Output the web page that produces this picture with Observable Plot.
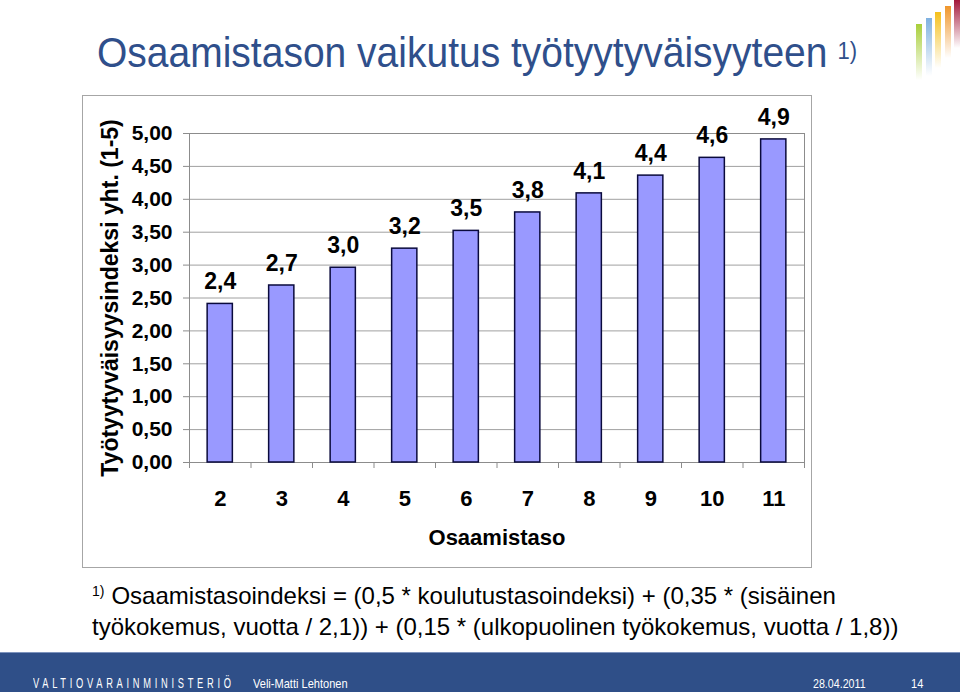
<!DOCTYPE html>
<html>
<head>
<meta charset="utf-8">
<script src="https://cdn.jsdelivr.net/npm/d3@7"></script>
<script src="https://cdn.jsdelivr.net/npm/@observablehq/plot@0.6"></script>
<style>
  html, body { margin: 0; padding: 0; background: #fff; }
  body { width: 960px; height: 692px; position: relative; overflow: hidden; font-family: "Liberation Sans", Arial, sans-serif; }
  #title { position: absolute; left: 97px; top: 27px; font-size: 39px; line-height: 46px; color: #2f4f8b; white-space: nowrap; transform: scaleY(1.1); transform-origin: 0 0; }
  #title sup { font-size: 22px; vertical-align: top; position: relative; top: -1px; margin-left: 10px; }
  #chartbox { position: absolute; left: 82px; top: 95px; width: 728px; height: 471px; border: 1px solid #a6a6a6; }
  #chart { position: absolute; left: 82px; top: 95px; }
  #note { position: absolute; left: 92px; top: 580px; font-size: 24px; line-height: 31px; color: #000; white-space: nowrap; }
  #note sup { font-size: 14px; vertical-align: top; position: relative; top: -4px; margin-right: 7px; }
  #footer { position: absolute; left: 0; top: 652px; width: 960px; height: 40px; background: #2f4f88; border-top: 1px solid #7d93bd; color: #fff; }
  #footer span { position: absolute; white-space: nowrap; transform-origin: 0 50%; }
  .bar { position: absolute; width: 6px; }
</style>
</head>
<body>
<div id="title">Osaamistason vaikutus työtyytyväisyyteen<sup>1)</sup></div>
<div id="chartbox"></div>
<div id="chart"></div>
<div id="note"><sup>1)</sup>Osaamistasoindeksi = (0,5 * koulutustasoindeksi) + (0,35 * (sisäinen<br>työkokemus, vuotta / 2,1)) + (0,15 * (ulkopuolinen työkokemus, vuotta / 1,8))</div>
<div id="footer">
  <span style="left:33px; top:21px; font-size:15px; letter-spacing:6px; transform:scaleX(0.62);">VALTIOVARAINMINISTERIÖ</span>
  <span style="left:253px; top:23px; font-size:13px; transform:scaleX(0.85);">Veli-Matti Lehtonen</span>
  <span style="left:813px; top:23px; font-size:13px; transform:scaleX(0.82);">28.04.2011</span>
  <span style="left:911px; top:23px; font-size:13px; transform:scaleX(0.85);">14</span>
</div>
<div class="bar" style="left:916px; top:24px; height:56px; background:linear-gradient(#a9cf3a, rgba(169,207,58,0));"></div>
<div class="bar" style="left:926px; top:18px; height:58px; background:linear-gradient(#7fb1e0, rgba(127,177,224,0));"></div>
<div class="bar" style="left:935px; top:12px; height:56px; background:linear-gradient(#f5c01c, rgba(245,192,28,0));"></div>
<div class="bar" style="left:945px; top:6px; height:52px; background:linear-gradient(#f0962a, rgba(240,150,42,0));"></div>
<div class="bar" style="left:954px; top:0px; height:48px; background:linear-gradient(#a3173a, rgba(163,23,58,0));"></div>
<script>
const levels = [2, 3, 4, 5, 6, 7, 8, 9, 10, 11];
const values = [2.41, 2.69, 2.96, 3.25, 3.52, 3.80, 4.09, 4.36, 4.63, 4.91];
const valueLabels = ["2,4", "2,7", "3,0", "3,2", "3,5", "3,8", "4,1", "4,4", "4,6", "4,9"];
const yTicks = [0, 0.5, 1, 1.5, 2, 2.5, 3, 3.5, 4, 4.5, 5];
const yTickLabels = ["0,00", "0,50", "1,00", "1,50", "2,00", "2,50", "3,00", "3,50", "4,00", "4,50", "5,00"];
const yLabel = "Työtyytyväisyysindeksi yht. (1-5)";
const xLabel = "Osaamistaso";

const data = levels.map((k, i) => ({level: k, value: values[i], label: valueLabels[i]}));
const boundaries = [levels[0] - 0.5, ...levels.map(k => k + 0.5)];
const halfBar = 0.205;

const chart = Plot.plot({
  width: 730,
  height: 473,
  marginLeft: 107,
  marginRight: 8,
  marginTop: 38,
  marginBottom: 106,
  style: {fontFamily: "'Liberation Sans', Arial, sans-serif", fontSize: "21px", fontWeight: "bold", color: "#000", background: "transparent", overflow: "visible"},
  x: {domain: [levels[0] - 0.5, levels[levels.length - 1] + 0.5]},
  y: {domain: [0, 5]},
  marks: [
    Plot.gridY(yTicks, {stroke: "#a0a0a0", strokeOpacity: 1}),
    Plot.frame({stroke: "#8c8c8c"}),
    Plot.rectY(data, {x1: d => d.level - halfBar, x2: d => d.level + halfBar, y: "value", fill: "#9999ff", stroke: "#0a0a3c", strokeWidth: 1.5}),
    Plot.text(data, {x: "level", y: "value", text: "label", dy: -22, fontSize: 23, fontWeight: "bold", fill: "#000"}),
    Plot.axisY({ticks: yTicks, tickFormat: d => yTickLabels[yTicks.indexOf(d)], tickSize: 6, tickPadding: 11, stroke: "#8c8c8c", fill: "#000", label: null}),
    Plot.axisY({ticks: [], fontSize: 23, fill: "#000", label: yLabel, labelAnchor: "center", labelOffset: 88, labelArrow: "none"}),
    Plot.axisX({ticks: boundaries, tickFormat: () => "", tickSize: 6, stroke: "#8c8c8c", label: null}),
    Plot.axisX({ticks: levels, tickSize: 0, tickPadding: 28, fontSize: 22, fill: "#000", label: xLabel, labelAnchor: "center", labelOffset: 82, labelArrow: "none"})
  ]
});
document.getElementById("chart").appendChild(chart);
</script>
</body>
</html>
